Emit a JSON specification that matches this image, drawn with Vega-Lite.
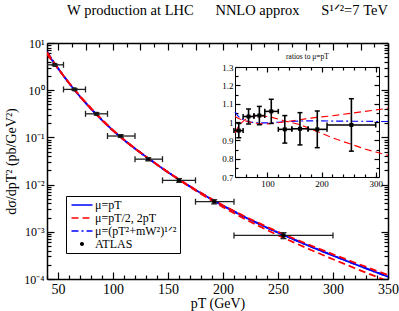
{
"$schema":"https://vega.github.io/schema/vega-lite/v6.json",
"autosize":"none",
"width":341,"height":236,
"padding":{"left":47,"top":43,"right":11,"bottom":32},
"background":"white",
"title":{"text":"W production at LHC\u2003\u2002NNLO approx\u2003\u2002S¹ᐟ²=7 TeV","font":"Liberation Serif, Times New Roman, serif","fontSize":14.5,"fontWeight":"normal","color":"black","anchor":"middle","frame":"group","baseline":"alphabetic","offset":8,"dx":10},
"config":{"view":{"stroke":null},"axis":{"grid":false,"domainColor":"black","tickColor":"black","labelColor":"black","titleColor":"black","labelFont":"Liberation Serif, Times New Roman, serif","titleFont":"Liberation Serif, Times New Roman, serif","titleFontWeight":"normal","domainWidth":1.5,"tickWidth":1.2,"labelOverlap":false,"labelFlush":false}},
"datasets":{
"theory":[
{"p":40,"c":"c1","l":"μ=pT","xs":6.17,"r":1},{"p":45,"c":"c1","l":"μ=pT","xs":4.19,"r":1},{"p":50,"c":"c1","l":"μ=pT","xs":2.88,"r":1},{"p":60,"c":"c1","l":"μ=pT","xs":1.41,"r":1},{"p":70,"c":"c1","l":"μ=pT","xs":0.733,"r":1},{"p":80,"c":"c1","l":"μ=pT","xs":0.403,"r":1},{"p":90,"c":"c1","l":"μ=pT","xs":0.232,"r":1},{"p":100,"c":"c1","l":"μ=pT","xs":0.1396,"r":1},{"p":110,"c":"c1","l":"μ=pT","xs":0.0881,"r":1},{"p":120,"c":"c1","l":"μ=pT","xs":0.0579,"r":1},{"p":130,"c":"c1","l":"μ=pT","xs":0.0389,"r":1},{"p":140,"c":"c1","l":"μ=pT","xs":0.02646,"r":1},{"p":150,"c":"c1","l":"μ=pT","xs":0.01825,"r":1},{"p":160,"c":"c1","l":"μ=pT","xs":0.01279,"r":1},{"p":170,"c":"c1","l":"μ=pT","xs":0.0091,"r":1},{"p":180,"c":"c1","l":"μ=pT","xs":0.00656,"r":1},{"p":190,"c":"c1","l":"μ=pT","xs":0.0048,"r":1},{"p":200,"c":"c1","l":"μ=pT","xs":0.003556,"r":1},{"p":220,"c":"c1","l":"μ=pT","xs":0.002035,"r":1},{"p":240,"c":"c1","l":"μ=pT","xs":0.00122,"r":1},{"p":260,"c":"c1","l":"μ=pT","xs":0.000758,"r":1},{"p":280,"c":"c1","l":"μ=pT","xs":0.000483,"r":1},{"p":300,"c":"c1","l":"μ=pT","xs":0.000313,"r":1},{"p":320,"c":"c1","l":"μ=pT","xs":0.000206,"r":1},{"p":340,"c":"c1","l":"μ=pT","xs":0.0001367,"r":1},{"p":350,"c":"c1","l":"μ=pT","xs":0.0001117,"r":1},
{"p":40,"c":"c3","l":"μ=(pT²+mW²)¹ᐟ²","xs":6.509,"r":1.055},{"p":45,"c":"c3","l":"μ=(pT²+mW²)¹ᐟ²","xs":4.337,"r":1.035},{"p":50,"c":"c3","l":"μ=(pT²+mW²)¹ᐟ²","xs":2.938,"r":1.02},{"p":60,"c":"c3","l":"μ=(pT²+mW²)¹ᐟ²","xs":1.418,"r":1.006},{"p":70,"c":"c3","l":"μ=(pT²+mW²)¹ᐟ²","xs":0.7323,"r":0.999},{"p":80,"c":"c3","l":"μ=(pT²+mW²)¹ᐟ²","xs":0.4014,"r":0.996},{"p":90,"c":"c3","l":"μ=(pT²+mW²)¹ᐟ²","xs":0.2308,"r":0.995},{"p":100,"c":"c3","l":"μ=(pT²+mW²)¹ᐟ²","xs":0.1389,"r":0.995},{"p":110,"c":"c3","l":"μ=(pT²+mW²)¹ᐟ²","xs":0.08784,"r":0.997},{"p":120,"c":"c3","l":"μ=(pT²+mW²)¹ᐟ²","xs":0.05784,"r":0.999},{"p":130,"c":"c3","l":"μ=(pT²+mW²)¹ᐟ²","xs":0.03898,"r":1.002},{"p":140,"c":"c3","l":"μ=(pT²+mW²)¹ᐟ²","xs":0.02654,"r":1.003},{"p":150,"c":"c3","l":"μ=(pT²+mW²)¹ᐟ²","xs":0.01832,"r":1.004},{"p":160,"c":"c3","l":"μ=(pT²+mW²)¹ᐟ²","xs":0.01285,"r":1.005},{"p":170,"c":"c3","l":"μ=(pT²+mW²)¹ᐟ²","xs":0.009155,"r":1.006},{"p":180,"c":"c3","l":"μ=(pT²+mW²)¹ᐟ²","xs":0.0066,"r":1.006},{"p":190,"c":"c3","l":"μ=(pT²+mW²)¹ᐟ²","xs":0.004829,"r":1.006},{"p":200,"c":"c3","l":"μ=(pT²+mW²)¹ᐟ²","xs":0.003577,"r":1.006},{"p":220,"c":"c3","l":"μ=(pT²+mW²)¹ᐟ²","xs":0.002045,"r":1.005},{"p":240,"c":"c3","l":"μ=(pT²+mW²)¹ᐟ²","xs":0.001226,"r":1.005},{"p":260,"c":"c3","l":"μ=(pT²+mW²)¹ᐟ²","xs":0.000761,"r":1.004},{"p":280,"c":"c3","l":"μ=(pT²+mW²)¹ᐟ²","xs":0.000485,"r":1.004},{"p":300,"c":"c3","l":"μ=(pT²+mW²)¹ᐟ²","xs":0.000314,"r":1.003},{"p":320,"c":"c3","l":"μ=(pT²+mW²)¹ᐟ²","xs":0.0002066,"r":1.003},{"p":340,"c":"c3","l":"μ=(pT²+mW²)¹ᐟ²","xs":0.0001371,"r":1.003},{"p":350,"c":"c3","l":"μ=(pT²+mW²)¹ᐟ²","xs":0.000112,"r":1.003},
{"p":40,"c":"c2a","l":"μ=pT/2, 2pT","xs":5.8,"r":0.94},{"p":45,"c":"c2a","l":"μ=pT/2, 2pT","xs":4.064,"r":0.97},{"p":50,"c":"c2a","l":"μ=pT/2, 2pT","xs":2.851,"r":0.99},{"p":60,"c":"c2a","l":"μ=pT/2, 2pT","xs":1.434,"r":1.017},{"p":70,"c":"c2a","l":"μ=pT/2, 2pT","xs":0.755,"r":1.03},{"p":80,"c":"c2a","l":"μ=pT/2, 2pT","xs":0.4163,"r":1.033},{"p":90,"c":"c2a","l":"μ=pT/2, 2pT","xs":0.2397,"r":1.033},{"p":100,"c":"c2a","l":"μ=pT/2, 2pT","xs":0.1438,"r":1.03},{"p":110,"c":"c2a","l":"μ=pT/2, 2pT","xs":0.0902,"r":1.024},{"p":120,"c":"c2a","l":"μ=pT/2, 2pT","xs":0.0588,"r":1.016},{"p":130,"c":"c2a","l":"μ=pT/2, 2pT","xs":0.03917,"r":1.007},{"p":140,"c":"c2a","l":"μ=pT/2, 2pT","xs":0.02646,"r":1.0},{"p":150,"c":"c2a","l":"μ=pT/2, 2pT","xs":0.01812,"r":0.993},{"p":160,"c":"c2a","l":"μ=pT/2, 2pT","xs":0.0126,"r":0.985},{"p":170,"c":"c2a","l":"μ=pT/2, 2pT","xs":0.008863,"r":0.974},{"p":180,"c":"c2a","l":"μ=pT/2, 2pT","xs":0.006311,"r":0.962},{"p":190,"c":"c2a","l":"μ=pT/2, 2pT","xs":0.00456,"r":0.95},{"p":200,"c":"c2a","l":"μ=pT/2, 2pT","xs":0.003336,"r":0.938},{"p":220,"c":"c2a","l":"μ=pT/2, 2pT","xs":0.00186,"r":0.914},{"p":240,"c":"c2a","l":"μ=pT/2, 2pT","xs":0.0010895,"r":0.893},{"p":260,"c":"c2a","l":"μ=pT/2, 2pT","xs":0.0006617,"r":0.873},{"p":280,"c":"c2a","l":"μ=pT/2, 2pT","xs":0.000412,"r":0.853},{"p":300,"c":"c2a","l":"μ=pT/2, 2pT","xs":0.0002617,"r":0.836},{"p":320,"c":"c2a","l":"μ=pT/2, 2pT","xs":0.0001689,"r":0.82},{"p":340,"c":"c2a","l":"μ=pT/2, 2pT","xs":0.0001102,"r":0.806},{"p":350,"c":"c2a","l":"μ=pT/2, 2pT","xs":0.0000894,"r":0.8},
{"p":40,"c":"c2b","l":"μ=pT/2, 2pT","xs":6.355,"r":1.03},{"p":45,"c":"c2b","l":"μ=pT/2, 2pT","xs":4.282,"r":1.022},{"p":50,"c":"c2b","l":"μ=pT/2, 2pT","xs":2.923,"r":1.015},{"p":60,"c":"c2b","l":"μ=pT/2, 2pT","xs":1.417,"r":1.005},{"p":70,"c":"c2b","l":"μ=pT/2, 2pT","xs":0.7315,"r":0.998},{"p":80,"c":"c2b","l":"μ=pT/2, 2pT","xs":0.4002,"r":0.993},{"p":90,"c":"c2b","l":"μ=pT/2, 2pT","xs":0.2297,"r":0.99},{"p":100,"c":"c2b","l":"μ=pT/2, 2pT","xs":0.1382,"r":0.99},{"p":110,"c":"c2b","l":"μ=pT/2, 2pT","xs":0.08748,"r":0.993},{"p":120,"c":"c2b","l":"μ=pT/2, 2pT","xs":0.05767,"r":0.996},{"p":130,"c":"c2b","l":"μ=pT/2, 2pT","xs":0.0389,"r":1.0},{"p":140,"c":"c2b","l":"μ=pT/2, 2pT","xs":0.02657,"r":1.004},{"p":150,"c":"c2b","l":"μ=pT/2, 2pT","xs":0.0184,"r":1.008},{"p":160,"c":"c2b","l":"μ=pT/2, 2pT","xs":0.01294,"r":1.012},{"p":170,"c":"c2b","l":"μ=pT/2, 2pT","xs":0.009255,"r":1.017},{"p":180,"c":"c2b","l":"μ=pT/2, 2pT","xs":0.006698,"r":1.021},{"p":190,"c":"c2b","l":"μ=pT/2, 2pT","xs":0.00492,"r":1.025},{"p":200,"c":"c2b","l":"μ=pT/2, 2pT","xs":0.003656,"r":1.028},{"p":220,"c":"c2b","l":"μ=pT/2, 2pT","xs":0.002104,"r":1.034},{"p":240,"c":"c2b","l":"μ=pT/2, 2pT","xs":0.001271,"r":1.042},{"p":260,"c":"c2b","l":"μ=pT/2, 2pT","xs":0.000796,"r":1.05},{"p":280,"c":"c2b","l":"μ=pT/2, 2pT","xs":0.000511,"r":1.058},{"p":300,"c":"c2b","l":"μ=pT/2, 2pT","xs":0.0003337,"r":1.066},{"p":320,"c":"c2b","l":"μ=pT/2, 2pT","xs":0.0002212,"r":1.074},{"p":340,"c":"c2b","l":"μ=pT/2, 2pT","xs":0.0001478,"r":1.081},{"p":350,"c":"c2b","l":"μ=pT/2, 2pT","xs":0.0001212,"r":1.085}
],
"atlas":[
{"p":47,"lo":38,"hi":55,"xs":3.45,"xsLo":3.32,"xsHi":3.58,"r":0.953,"rLo":0.914,"rHi":0.992},
{"p":65,"lo":55,"hi":75,"xs":1.04,"xsLo":0.997,"xsHi":1.083,"r":1.03,"rLo":0.989,"rHi":1.071},
{"p":85,"lo":75,"hi":95,"xs":0.316,"xsLo":0.3,"xsHi":0.332,"r":1.035,"rLo":0.985,"rHi":1.085},
{"p":107,"lo":95,"hi":120,"xs":0.107,"xsLo":0.1,"xsHi":0.114,"r":1.058,"rLo":0.992,"rHi":1.124},
{"p":132,"lo":120,"hi":145,"xs":0.0346,"xsLo":0.032,"xsHi":0.0372,"r":0.96,"rLo":0.885,"rHi":1.035},
{"p":160,"lo":145,"hi":175,"xs":0.0123,"xsLo":0.0112,"xsHi":0.0134,"r":0.963,"rLo":0.875,"rHi":1.051},
{"p":192,"lo":175,"hi":210,"xs":0.00434,"xsLo":0.0039,"xsHi":0.00478,"r":0.96,"rLo":0.86,"rHi":1.06},
{"p":255,"lo":210,"hi":300,"xs":0.000837,"xsLo":0.000717,"xsHi":0.000957,"r":0.984,"rLo":0.841,"rHi":1.127}
]
},
"layer":[
{
"layer":[
{"data":{"name":"theory"},"mark":{"type":"line","strokeWidth":1.8,"clip":true},
"encoding":{
"x":{"field":"p","type":"quantitative","scale":{"domain":[40,350],"nice":false,"zero":false},"axis":{"orient":"bottom","values":[50,100,150,200,250,300,350],"tickSize":-7,"labelPadding":10,"labelFontSize":14,"title":"pT (GeV)","titleFontSize":14,"titlePadding":0}},
"y":{"field":"xs","type":"quantitative","scale":{"type":"log","domain":[0.0001,10],"nice":false},"axis":{"orient":"left","values":[0.0001,0.001,0.01,0.1,1,10],"tickSize":-7,"labelPadding":10,"labelFontSize":12,"labelExpr":"datum.value >= 9 ? '10¹' : datum.value >= 0.9 ? '10⁰' : datum.value >= 0.09 ? '10⁻¹' : datum.value >= 0.009 ? '10⁻²' : datum.value >= 0.0009 ? '10⁻³' : '10⁻⁴'","title":"dσ/dpT² (pb/GeV²)","titleFontSize":14,"titlePadding":5}},
"color":{"field":"l","type":"nominal","scale":{"domain":["μ=pT","μ=pT/2, 2pT","μ=(pT²+mW²)¹ᐟ²","ATLAS"],"range":["#0000ff","#ff0000","#0000ff","#000000"]},
"legend":{"orient":"none","legendX":19,"legendY":153,"title":null,"padding":3,"strokeColor":"black","fillColor":"white","cornerRadius":0,"labelFont":"Liberation Serif, Times New Roman, serif","labelFontSize":12,"labelColor":"black","labelLimit":300,"labelOffset":7,"symbolOffset":7,"rowPadding":1,"symbolStrokeWidth":1.6,"symbolSize":100,"symbolType":"stroke",
"encode":{"symbols":{"update":{
"shape":{"signal":"datum.value === 'ATLAS' ? 'circle' : 'M-2.1,0H2.1'"},
"size":{"signal":"datum.value === 'ATLAS' ? 6 : 100"},
"fill":{"signal":"datum.value === 'ATLAS' ? 'black' : 'transparent'"},
"strokeDash":{"signal":"datum.value === 'μ=pT/2, 2pT' ? [7,4] : (datum.value === 'μ=(pT²+mW²)¹ᐟ²' ? [7,3,2,3] : [1,0])"}
}}}}},
"strokeDash":{"field":"l","type":"nominal","scale":{"domain":["μ=pT","μ=pT/2, 2pT","μ=(pT²+mW²)¹ᐟ²","ATLAS"],"range":[[1,0],[7,4],[7,3,2,3],[1,0]]},"legend":null},
"detail":{"field":"c"}
}},
{"data":{"name":"atlas"},"mark":{"type":"rule","color":"#222222","strokeWidth":1.3,"clip":true},
"encoding":{
"x":{"field":"lo","type":"quantitative","axis":{"orient":"bottom","values":[40,60,70,80,90,110,120,130,140,160,170,180,190,210,220,230,240,260,270,280,290,310,320,330,340],"tickSize":-4,"labels":false,"domain":false,"title":null}},
"x2":{"field":"hi"},
"y":{"field":"xs","type":"quantitative","axis":{"orient":"left","values":[0.0002,0.0003,0.0004,0.0005,0.0006,0.0007,0.0008,0.0009,0.002,0.003,0.004,0.005,0.006,0.007,0.008,0.009,0.02,0.03,0.04,0.05,0.06,0.07,0.08,0.09,0.2,0.3,0.4,0.5,0.6,0.7,0.8,0.9,2,3,4,5,6,7,8,9],"tickSize":-4,"labels":false,"domain":false,"title":null}}
}},
{"data":{"name":"atlas"},"mark":{"type":"rule","color":"#222222","strokeWidth":1.3,"clip":true},
"encoding":{
"x":{"field":"p","type":"quantitative","axis":{"orient":"top","values":[50,75,100,125,150,175,200,225,250,275,300,325,350],"tickSize":-7,"labels":false,"domain":true,"title":null}},
"y":{"field":"xsLo","type":"quantitative","axis":{"orient":"right","values":[0.0001,0.001,0.01,0.1,1,10],"tickSize":-7,"labels":false,"domain":true,"title":null}},
"y2":{"field":"xsHi"}
}},
{"data":{"name":"atlas"},"mark":{"type":"point","shape":"square","filled":true,"size":16,"color":"black","opacity":1},
"encoding":{
"x":{"field":"p","type":"quantitative","axis":{"orient":"top","values":[62.5,87.5,112.5,137.5,162.5,187.5,212.5,237.5,262.5,287.5,312.5,337.5],"tickSize":-4,"labels":false,"domain":false,"title":null}},
"y":{"field":"xs","type":"quantitative","axis":{"orient":"right","values":[0.0002,0.0003,0.0004,0.0005,0.0006,0.0007,0.0008,0.0009,0.002,0.003,0.004,0.005,0.006,0.007,0.008,0.009,0.02,0.03,0.04,0.05,0.06,0.07,0.08,0.09,0.2,0.3,0.4,0.5,0.6,0.7,0.8,0.9,2,3,4,5,6,7,8,9],"tickSize":-4,"labels":false,"domain":false,"title":null}}
}},
{"data":{"name":"atlas"},"mark":{"type":"tick","orient":"vertical","size":6,"thickness":1.3,"color":"#222222","opacity":1,"clip":true},
"encoding":{"x":{"field":"lo","type":"quantitative","axis":null},"y":{"field":"xs","type":"quantitative","axis":null}}},
{"data":{"name":"atlas"},"mark":{"type":"tick","orient":"vertical","size":6,"thickness":1.3,"color":"#222222","opacity":1,"clip":true},
"encoding":{"x":{"field":"hi","type":"quantitative","axis":null},"y":{"field":"xs","type":"quantitative","axis":null}}},
{"data":{"name":"atlas"},"mark":{"type":"tick","orient":"horizontal","size":6,"thickness":1.3,"color":"#222222","opacity":1,"clip":true},
"encoding":{"x":{"field":"p","type":"quantitative","axis":null},"y":{"field":"xsLo","type":"quantitative","axis":null}}},
{"data":{"name":"atlas"},"mark":{"type":"tick","orient":"horizontal","size":6,"thickness":1.3,"color":"#222222","opacity":1,"clip":true},
"encoding":{"x":{"field":"p","type":"quantitative","axis":null},"y":{"field":"xsHi","type":"quantitative","axis":null}}}
],
"resolve":{"axis":{"x":"independent","y":"independent"}}
},
{
"layer":[
{"data":{"name":"theory"},"transform":[{"filter":"datum.c != 'c1'"}],"mark":{"type":"line","strokeWidth":1.1,"clip":true},
"encoding":{
"x":{"field":"p","type":"quantitative","scale":{"domain":[40,306],"range":[188,332],"nice":false,"zero":false},"axis":{"orient":"bottom","offset":-102,"values":[100,200,300],"tickSize":-5,"labelPadding":7,"labelFontSize":9,"domainWidth":1,"title":null}},
"y":{"field":"r","type":"quantitative","scale":{"domain":[0.7,1.3],"range":[134,24],"nice":false,"zero":false},"axis":{"orient":"left","offset":-188,"values":[0.7,0.8,0.9,1,1.1,1.2,1.3],"tickSize":-5,"labelPadding":7,"labelFontSize":9,"domainWidth":1,"labelExpr":"datum.value == 1 ? '1' : format(datum.value, '.1f')","title":null}},
"color":{"field":"l","type":"nominal","legend":null},
"strokeDash":{"field":"l","type":"nominal","legend":null},
"detail":{"field":"c"}
}},
{"data":{"name":"atlas"},"mark":{"type":"rule","color":"black","strokeWidth":1.6,"clip":true},
"encoding":{
"x":{"field":"lo","type":"quantitative","axis":{"orient":"bottom","offset":-102,"values":[60,80,120,140,160,180,220,240,260,280],"tickSize":-3,"labels":false,"domain":false,"title":null}},
"x2":{"field":"hi"},
"y":{"field":"r","type":"quantitative","axis":{"orient":"left","offset":-188,"values":[0.75,0.85,0.95,1.05,1.15,1.25],"tickSize":-3,"labels":false,"domain":false,"title":null}}
}},
{"data":{"name":"atlas"},"mark":{"type":"rule","color":"black","strokeWidth":1.6,"clip":true},
"encoding":{
"x":{"field":"p","type":"quantitative","axis":{"orient":"top","offset":-24,"values":[100,200,300],"tickSize":-5,"labels":false,"domain":true,"domainWidth":1,"title":"ratios  to  μ=pT","titleFontSize":7.5,"titlePadding":6}},
"y":{"field":"rLo","type":"quantitative","axis":{"orient":"right","offset":-9,"values":[0.7,0.8,0.9,1,1.1,1.2,1.3],"tickSize":-5,"labels":false,"domain":true,"domainWidth":1,"title":null}},
"y2":{"field":"rHi"}
}},
{"data":{"name":"atlas"},"mark":{"type":"point","shape":"square","filled":true,"size":16,"color":"black","opacity":1,"clip":true},
"encoding":{
"x":{"field":"p","type":"quantitative","axis":{"orient":"top","offset":-24,"values":[60,80,120,140,160,180,220,240,260,280],"tickSize":-3,"labels":false,"domain":false,"title":null}},
"y":{"field":"r","type":"quantitative","axis":{"orient":"right","offset":-9,"values":[0.75,0.85,0.95,1.05,1.15,1.25],"tickSize":-3,"labels":false,"domain":false,"title":null}}
}},
{"data":{"name":"atlas"},"mark":{"type":"tick","orient":"vertical","size":5,"thickness":1.5,"color":"black","opacity":1,"clip":true},
"encoding":{"x":{"field":"lo","type":"quantitative","axis":null},"y":{"field":"r","type":"quantitative","axis":null}}},
{"data":{"name":"atlas"},"mark":{"type":"tick","orient":"vertical","size":5,"thickness":1.5,"color":"black","opacity":1,"clip":true},
"encoding":{"x":{"field":"hi","type":"quantitative","axis":null},"y":{"field":"r","type":"quantitative","axis":null}}},
{"data":{"name":"atlas"},"mark":{"type":"tick","orient":"horizontal","size":5,"thickness":1.5,"color":"black","opacity":1,"clip":true},
"encoding":{"x":{"field":"p","type":"quantitative","axis":null},"y":{"field":"rLo","type":"quantitative","axis":null}}},
{"data":{"name":"atlas"},"mark":{"type":"tick","orient":"horizontal","size":5,"thickness":1.5,"color":"black","opacity":1,"clip":true},
"encoding":{"x":{"field":"p","type":"quantitative","axis":null},"y":{"field":"rHi","type":"quantitative","axis":null}}}
],
"resolve":{"axis":{"x":"independent","y":"independent"}}
}
],
"resolve":{"scale":{"x":"independent","y":"independent"},"axis":{"x":"independent","y":"independent"}}
}
